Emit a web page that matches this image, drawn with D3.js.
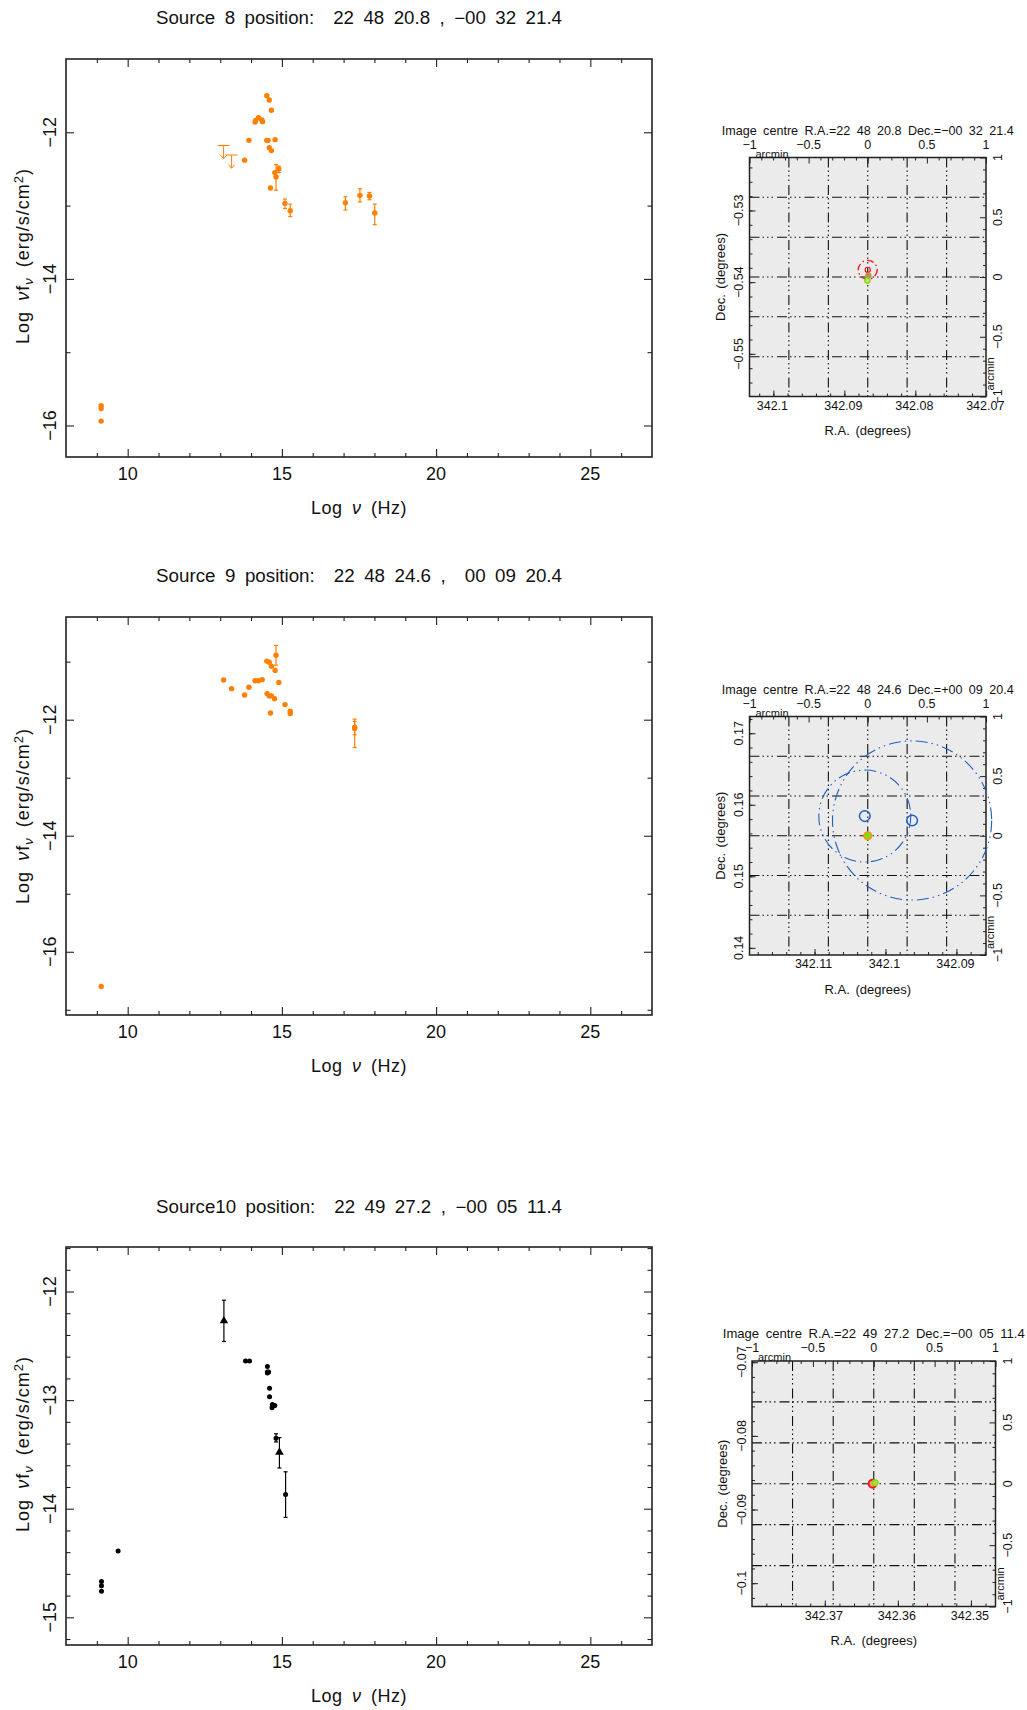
<!DOCTYPE html>
<html>
<head>
<meta charset="utf-8">
<script src="https://cdnjs.cloudflare.com/ajax/libs/d3/7.8.5/d3.min.js"></script>
<style>
  body { margin: 0; background: #fff; }
  text { font-family: "Liberation Sans", sans-serif; fill: #111; white-space: pre; }
</style>
</head>
<body>
<div id="chart"></div>
<script>
// Source 8 SED, log nu / log nu f_nu
var s8Nu = [9.14, 9.14, 9.14, 13.79, 13.93, 14.13, 14.15, 14.24, 14.35, 14.37, 14.51, 14.59, 14.66, 14.51, 14.55, 14.78, 14.59, 14.66, 14.63, 14.77];
var s8Flux = [-15.73, -15.77, -15.94, -12.38, -12.11, -11.86, -11.84, -11.80, -11.83, -11.855, -11.50, -11.56, -11.70, -12.11, -12.11, -12.10, -12.21, -12.25, -12.76, -12.55];
var s8ErrNu = [14.90, 14.81, 15.10, 15.27, 17.06, 17.53, 17.84, 18.01];
var s8ErrFlux = [-12.50, -12.61, -12.97, -13.07, -12.96, -12.86, -12.87, -13.10];
var s8ErrLow = [-12.55, -12.79, -13.04, -13.15, -13.06, -12.95, -12.92, -13.26];
var s8ErrHigh = [-12.46, -12.44, -12.91, -12.98, -12.88, -12.77, -12.82, -12.98];
var s8LimitNu = [13.11, 13.37];
var s8LimitFlux = [-12.18, -12.31];
var s8LimitEnd = [-12.36, -12.49];

// Source 9 SED
var s9Nu = [9.14, 13.11, 13.37, 13.79, 13.93, 14.13, 14.24, 14.36, 14.51, 14.59, 14.66, 14.78, 14.90, 14.52, 14.59, 14.66, 14.76, 15.10, 14.63, 15.27, 15.27];
var s9Flux = [-16.60, -11.316, -11.465, -11.574, -11.44, -11.33, -11.33, -11.31, -10.99, -11.01, -11.08, -11.15, -11.36, -11.55, -11.59, -11.59, -11.64, -11.74, -11.885, -11.855, -11.895];
var s9ErrNu = [14.81, 17.36, 17.36];
var s9ErrFlux = [-10.89, -12.15, -12.13];
var s9ErrLow = [-11.06, -12.48, -12.26];
var s9ErrHigh = [-10.72, -11.99, -12.03];

// Source 10 SED
var s10Nu = [9.15, 9.15, 9.15, 9.69, 13.82, 13.95, 14.53, 14.53, 14.53, 14.57, 14.60, 14.60, 14.69, 14.73, 14.77, 14.68];
var s10Flux = [-14.67, -14.71, -14.76, -14.39, -12.64, -12.64, -12.69, -12.74, -12.75, -12.74, -12.89, -12.97, -13.04, -13.05, -13.05, -13.07];
var s10ErrNu = [14.81, 15.12];
var s10ErrFlux = [-13.35, -13.87];
var s10ErrLow = [-13.385, -14.08];
var s10ErrHigh = [-13.31, -13.66];
var s10TriNu = [13.12, 14.92];
var s10TriFlux = [-12.27, -13.48];
var s10TriLow = [-12.46, -13.625];
var s10TriHigh = [-12.08, -13.345];

// x axis of all SED panels
var nuTicks = [10, 15, 20, 25];
var nuMinor = [9, 11, 12, 13, 14, 16, 17, 18, 19, 21, 22, 23, 24, 26];

// map panels, offsets in arcmin from the image centre
var arcTicks = [-1, -0.5, 0, 0.5, 1];
var arcMinor = [-0.9, -0.8, -0.7, -0.6, -0.4, -0.3, -0.2, -0.1, 0.1, 0.2, 0.3, 0.4, 0.6, 0.7, 0.8, 0.9];
var gridOffsets = [-0.667, -0.333, 0, 0.333, 0.667];

var map8Ra = [342.1, 342.09, 342.08, 342.07];
var map8Dec = [-0.53, -0.54, -0.55];
var map8Circles = [
    { x: 0, y: 0.06, r: 0.08, color: "#f01818", dash: "7 3 1.5 3", width: 1.4, fill: "none" },
    { x: 0, y: 0.06, r: 0.022, color: "#f01818", dash: null, width: 1.2, fill: "none" },
    { x: 0.005, y: 0.01, r: 0.022, color: "#c09050", dash: null, width: 1.2, fill: "#c09050" },
    { x: -0.003, y: -0.03, r: 0.022, color: "#80e000", dash: null, width: 1.5, fill: "#c8d8a0" }
];

var map9Ra = [342.11, 342.1, 342.09];
var map9Dec = [0.17, 0.16, 0.15, 0.14];
var map9Circles = [
    { x: 0.375, y: 0.128, r: 0.673, color: "#2060c0", dash: "12 4 1.5 4 1.5 4", width: 1.1, fill: "none" },
    { x: -0.025, y: 0.165, r: 0.389, color: "#2060c0", dash: "12 4 1.5 4 1.5 4", width: 1.1, fill: "none" },
    { x: -0.025, y: 0.165, r: 0.045, color: "#2060c0", dash: null, width: 1.5, fill: "none" },
    { x: 0.375, y: 0.128, r: 0.045, color: "#2060c0", dash: null, width: 1.5, fill: "none" },
    { x: 0, y: 0, r: 0.032, color: "#ff9020", dash: null, width: 1.5, fill: "#80e000" }
];

var map10Ra = [342.37, 342.36, 342.35];
var map10Dec = [-0.07, -0.08, -0.09, -0.1];
var map10Circles = [
    { x: -0.01, y: 0, r: 0.032, color: "#f01818", dash: null, width: 2, fill: "#f0a060" },
    { x: 0.012, y: 0.008, r: 0.022, color: "#80e000", dash: null, width: 1.6, fill: "#c8d060" }
];

var orange = "#ff8000";
var svg = d3.select("#chart").append("svg").attr("width", 1027).attr("height", 1710);

// Format a tick with a real minus sign
var minus = function (d) { return String(d).replace("-", "\u2212"); };

// Panel frame plus inward ticks on all four sides
function ticks(g, x, y, w, h, xMaj, xMin, yMaj, yMin, yMinLen) {
    var sides = [
        [d3.axisBottom(x), h, 0, xMaj, xMin, 4],
        [d3.axisTop(x), 0, 0, xMaj, xMin, 4],
        [d3.axisLeft(y), 0, 0, yMaj, yMin, yMinLen],
        [d3.axisRight(y), 0, w, yMaj, yMin, yMinLen]
    ];
    sides.forEach(function (s) {
        [[s[3], 8], [s[4], s[5]]].forEach(function (t) {
            g.append("g")
                .attr("transform", "translate(" + s[2] + "," + s[1] + ")")
                .call(s[0].tickValues(t[0]).tickSizeInner(-t[1]).tickSizeOuter(0).tickFormat(""))
                .call(function (a) { a.select(".domain").remove(); })
                .selectAll("line").attr("stroke", "#222").attr("stroke-width", 1.1);
        });
    });
    g.append("rect").attr("width", w).attr("height", h)
        .attr("fill", "none").attr("stroke", "#222").attr("stroke-width", 1.6);
}

function label(g, x, y, txt, size, rot) {
    return g.append("text")
        .attr("transform", "translate(" + x + "," + y + ")" + (rot ? " rotate(-90)" : ""))
        .attr("text-anchor", "middle").attr("dominant-baseline", "central")
        .attr("font-size", size).text(txt);
}

function drawSed(o) {
    var g = svg.append("g").attr("transform", "translate(" + o.left + "," + o.top + ")");
    var x = d3.scaleLinear().domain([8, 27]).range([0, o.w]);
    var y = d3.scaleLinear().domain(o.yDomain).range([o.h, 0]);

    ticks(g, x, y, o.w, o.h, nuTicks, nuMinor, o.yTicks, o.yMinor, 4.5);

    nuTicks.forEach(function (t) { label(g, x(t), o.h + 16.5, t, 18); });
    o.yLabels.forEach(function (t) { label(g, -16, y(t), minus(t), 18, true); });

    label(g, 293, o.titleY - o.top, o.title, 17.5)
        .attr("word-spacing", 4)
        .attr("textLength", 406).attr("lengthAdjust", "spacingAndGlyphs");

    var xt = label(g, 293, o.h + 51, "", 18).attr("letter-spacing", 0.5).attr("word-spacing", 4);
    xt.append("tspan").text("Log ");
    xt.append("tspan").attr("font-style", "italic").text("\u03bd");
    xt.append("tspan").text(" (Hz)");

    var yt = g.append("text")
        .attr("transform", "translate(-37," + (o.yTitleY - o.top) + ") rotate(-90)")
        .attr("text-anchor", "middle").attr("font-size", 18)
        .attr("letter-spacing", 1).attr("word-spacing", 4);
    yt.append("tspan").text("Log ");
    yt.append("tspan").attr("font-style", "italic").text("\u03bd");
    yt.append("tspan").text("f");
    yt.append("tspan").attr("font-style", "italic").attr("font-size", 13).attr("dy", 4).text("\u03bd");
    yt.append("tspan").attr("dy", -4).text(" (erg/s/cm");
    yt.append("tspan").attr("font-size", 13).attr("dy", -6).text("2");
    yt.append("tspan").attr("dy", 6).text(")");

    var c = o.color;
    var pts = d3.zip(o.nu, o.flux);
    g.selectAll(".pt").data(pts).enter().append("circle")
        .attr("cx", function (d) { return x(d[0]); })
        .attr("cy", function (d) { return y(d[1]); })
        .attr("r", o.r).attr("fill", c);

    // error bars, with or without triangle marks
    (o.err || []).forEach(function (e) {
        var rows = d3.zip(e.nu, e.flux, e.low, e.high);
        rows.forEach(function (d) {
            var px = x(d[0]);
            g.append("line").attr("x1", px).attr("x2", px).attr("y1", y(d[2])).attr("y2", y(d[3]))
                .attr("stroke", c).attr("stroke-width", 1.2);
            [d[2], d[3]].forEach(function (v) {
                g.append("line").attr("x1", px - 2).attr("x2", px + 2).attr("y1", y(v)).attr("y2", y(v))
                    .attr("stroke", c).attr("stroke-width", 1.2);
            });
            if (e.tri) {
                g.append("path").attr("d", d3.symbol(d3.symbolTriangle, 32)())
                    .attr("transform", "translate(" + px + "," + y(d[1]) + ")").attr("fill", c);
            } else {
                g.append("circle").attr("cx", px).attr("cy", y(d[1])).attr("r", o.r).attr("fill", c);
            }
        });
    });

    // upper limits
    if (o.limitNu) {
        d3.zip(o.limitNu, o.limitFlux, o.limitEnd).forEach(function (d) {
            var px = x(d[0]), py = y(d[1]), pe = y(d[2]);
            g.append("path")
                .attr("d", "M" + (px - 6) + "," + py + "H" + (px + 6) + "M" + px + "," + py + "V" + pe +
                    "M" + (px - 3) + "," + (pe - 3.5) + "L" + px + "," + pe + "L" + (px + 3) + "," + (pe - 3.5))
                .attr("fill", "none").attr("stroke", c).attr("stroke-width", 1);
        });
    }
}

function drawMap(o) {
    var g = svg.append("g").attr("transform", "translate(" + o.left + "," + o.top + ")");
    var off = d3.scaleLinear().domain([-1, 1]).range([0, o.w]);
    var offY = d3.scaleLinear().domain([-1, 1]).range([o.h, 0]);
    // 1 arcmin = 1/60 degree around the image centre, R.A. runs right to left
    var ra = d3.scaleLinear().domain([o.ra + 1 / 60, o.ra - 1 / 60]).range([0, o.w]);
    var dec = d3.scaleLinear().domain([o.dec - 1 / 60, o.dec + 1 / 60]).range([o.h, 0]);

    g.append("rect").attr("width", o.w).attr("height", o.h).attr("fill", "#ebebeb");

    gridOffsets.forEach(function (v) {
        g.append("line").attr("x1", off(v)).attr("x2", off(v)).attr("y1", 0).attr("y2", o.h)
            .attr("stroke", "#111").attr("stroke-width", 1.1).attr("stroke-dasharray", "10 3 1.5 3 1.5 3 1.5 4");
        g.append("line").attr("x1", 0).attr("x2", o.w).attr("y1", offY(v)).attr("y2", offY(v))
            .attr("stroke", "#111").attr("stroke-width", 1.1).attr("stroke-dasharray", "10 3 1.5 3 1.5 3 1.5 4");
    });

    // degree ticks on left/bottom, arcmin ticks on top/right
    var minorRa = d3.range(Math.ceil((o.ra - 1 / 60) * 500), Math.floor((o.ra + 1 / 60) * 500) + 1).map(function (d) { return d / 500; });
    var minorDec = d3.range(Math.ceil((o.dec - 1 / 60) * 500), Math.floor((o.dec + 1 / 60) * 500) + 1).map(function (d) { return d / 500; });
    [[d3.axisBottom(ra), o.h, 0, o.raTicks, minorRa], [d3.axisLeft(dec), 0, 0, o.decTicks, minorDec],
     [d3.axisTop(off), 0, 0, arcTicks, arcMinor], [d3.axisRight(offY), 0, o.w, arcTicks, arcMinor]].forEach(function (s) {
        [[s[3], 6], [s[4], 3]].forEach(function (t) {
            g.append("g")
                .attr("transform", "translate(" + s[2] + "," + s[1] + ")")
                .call(s[0].tickValues(t[0]).tickSizeInner(-t[1]).tickSizeOuter(0).tickFormat(""))
                .call(function (a) { a.select(".domain").remove(); })
                .selectAll("line").attr("stroke", "#222").attr("stroke-width", 1);
        });
    });
    g.append("rect").attr("width", o.w).attr("height", o.h)
        .attr("fill", "none").attr("stroke", "#222").attr("stroke-width", 1.5);

    g.selectAll(".src").data(o.circles).enter().append("circle")
        .attr("cx", function (d) { return off(d.x); })
        .attr("cy", function (d) { return offY(d.y); })
        .attr("r", function (d) { return d.r * o.w / 2; })
        .attr("fill", function (d) { return d.fill; })
        .attr("stroke", function (d) { return d.color; })
        .attr("stroke-width", function (d) { return d.width; })
        .attr("stroke-dasharray", function (d) { return d.dash; });

    var fs = 12.5;
    label(g, o.w / 2, o.titleDy, o.title, 13)
        .attr("word-spacing", 3)
        .attr("textLength", o.titleLen).attr("lengthAdjust", "spacingAndGlyphs");
    arcTicks.forEach(function (t) {
        label(g, off(t), -13, minus(t), fs);
        label(g, o.w + o.rightDx, offY(t), minus(t), fs, true);
    });
    o.raTicks.forEach(function (t) { label(g, ra(t) - 1, o.h + 9, t, fs); });
    o.decTicks.forEach(function (t) { label(g, o.leftDx, dec(t), minus(t), fs, true); });
    label(g, o.w / 2, o.h + 34, "R.A. (degrees)", 13).attr("word-spacing", 2);
    label(g, o.leftDx - 19, o.h / 2, "Dec. (degrees)", 13, true).attr("word-spacing", 2);
    label(g, 0, -4, "arcmin", 11).attr("text-anchor", "start").attr("dx", 6);
    label(g, o.w + 5, o.h, "arcmin", 11, true).attr("text-anchor", "start").attr("dy", -1).attr("dx", 6);
}

drawSed({
    left: 66, top: 59, w: 586, h: 398, yDomain: [-16.43, -11.0],
    yTicks: [-12, -14, -16], yMinor: [-13, -15], yLabels: [-12, -14, -16],
    title: "Source 8 position:  22 48 20.8 , \u221200 32 21.4", titleY: 18, yTitleY: 256,
    nu: s8Nu, flux: s8Flux, color: orange, r: 2.7,
    err: [{ nu: s8ErrNu, flux: s8ErrFlux, low: s8ErrLow, high: s8ErrHigh }],
    limitNu: s8LimitNu, limitFlux: s8LimitFlux, limitEnd: s8LimitEnd
});

drawSed({
    left: 66, top: 617, w: 586, h: 398, yDomain: [-17.09, -10.23],
    yTicks: [-12, -14, -16], yMinor: [-11, -13, -15, -17], yLabels: [-12, -14, -16],
    title: "Source 9 position:  22 48 24.6 ,  00 09 20.4", titleY: 576, yTitleY: 816,
    nu: s9Nu, flux: s9Flux, color: orange, r: 2.7,
    err: [{ nu: s9ErrNu, flux: s9ErrFlux, low: s9ErrLow, high: s9ErrHigh }]
});

drawSed({
    left: 66, top: 1247, w: 586, h: 398, yDomain: [-15.255, -11.59],
    yTicks: [-12, -13, -14, -15],
    yMinor: [-11.6, -11.8, -12.2, -12.4, -12.6, -12.8, -13.2, -13.4, -13.6, -13.8, -14.2, -14.4, -14.6, -14.8, -15.2],
    yLabels: [-12, -13, -14, -15],
    title: "Source10 position:  22 49 27.2 , \u221200 05 11.4", titleY: 1206.5, yTitleY: 1444,
    nu: s10Nu, flux: s10Flux, color: "#000", r: 2.5,
    err: [{ nu: s10ErrNu, flux: s10ErrFlux, low: s10ErrLow, high: s10ErrHigh },
          { nu: s10TriNu, flux: s10TriFlux, low: s10TriLow, high: s10TriHigh, tri: true }]
});

drawMap({
    left: 749.5, top: 157.5, w: 236.5, h: 239, ra: 342.0867, dec: -0.53928,
    raTicks: map8Ra, decTicks: map8Dec, circles: map8Circles, leftDx: -10.5, rightDx: 11.5, titleDy: -27, titleLen: 292,
    title: "Image centre R.A.=22 48 20.8 Dec.=\u221200 32 21.4"
});

drawMap({
    left: 749.5, top: 716.5, w: 236.5, h: 238.5, ra: 342.1025, dec: 0.15567,
    raTicks: map9Ra, decTicks: map9Dec, circles: map9Circles, leftDx: -10.5, rightDx: 11.5, titleDy: -27, titleLen: 292,
    title: "Image centre R.A.=22 48 24.6 Dec.=+00 09 20.4"
});

drawMap({
    left: 752, top: 1361, w: 243.5, h: 245.5, ra: 342.3633, dec: -0.0865,
    raTicks: map10Ra, decTicks: map10Dec, circles: map10Circles, leftDx: -10.5, rightDx: 12, titleDy: -27.5, titleLen: 302,
    title: "Image centre R.A.=22 49 27.2 Dec.=\u221200 05 11.4"
});
</script>
</body>
</html>
